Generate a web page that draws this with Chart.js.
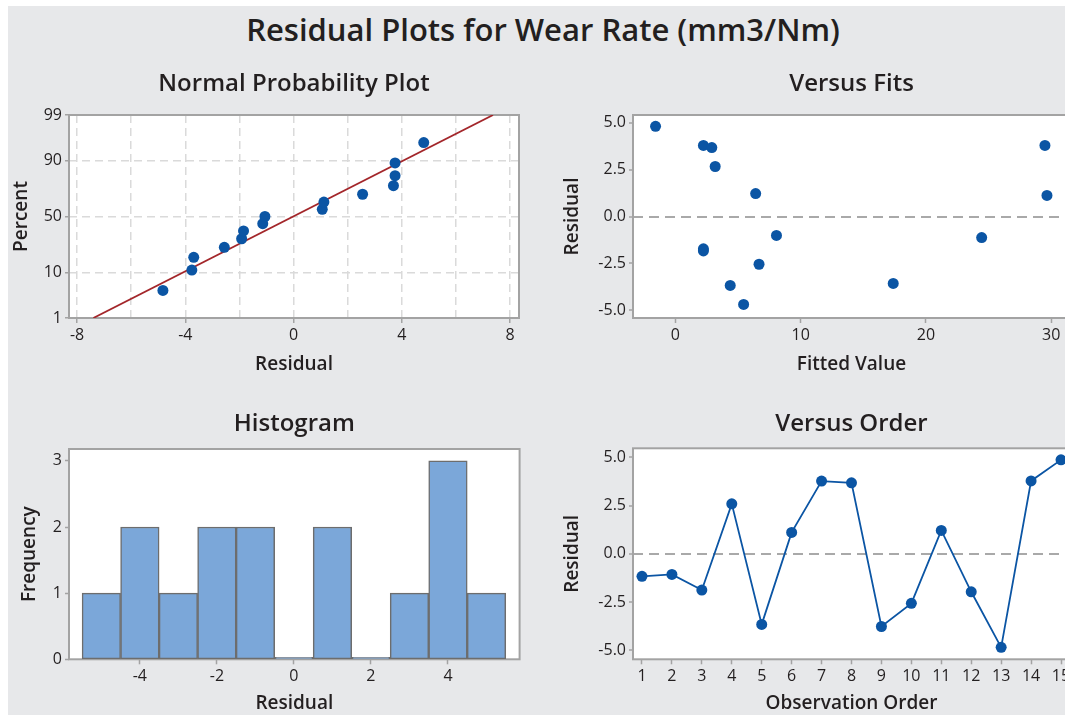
<!DOCTYPE html>
<html><head><meta charset="utf-8">
<script src="https://cdn.jsdelivr.net/npm/chart.js@4.4.1/dist/chart.umd.min.js"></script>
<style>
html,body{margin:0;padding:0;width:1065px;height:715px;overflow:hidden;background:#fff;font-family:"Open Sans",sans-serif;}
#bg{position:absolute;left:8px;top:6px;right:0;bottom:0;background:#e7e8ea;}
#title{position:absolute;left:0;width:1086px;top:8px;text-align:center;font-size:31px;font-weight:600;color:#231f20;line-height:42px;}
.box{position:absolute;}
</style></head><body>
<div id="bg"></div>
<div id="title">Residual Plots for Wear Rate (mm3/Nm)</div>
<div class="box" style="left:0;top:60px;width:540px;height:330px"><canvas id="cProb"></canvas></div>
<div class="box" style="left:540px;top:60px;width:540px;height:330px"><canvas id="cFits"></canvas></div>
<div class="box" style="left:0;top:400px;width:540px;height:315px"><canvas id="cHist"></canvas></div>
<div class="box" style="left:540px;top:400px;width:540px;height:315px"><canvas id="cOrder"></canvas></div>
<script>
// ---------- data ----------
const probResiduals = [-4.83,-3.76,-3.69,-2.56,-1.92,-1.85,-1.14,-1.06,1.06,1.12,2.55,3.69,3.75,3.75,4.81];
const probPercents  = [4.5,11.0,17.5,24.0,30.5,37.0,43.5,50.0,56.5,63.0,69.5,76.0,82.5,89.0,95.5];
const fitLineX   = [-7.40, 7.37];
const fitLinePct = [1, 99];
const probTicks  = [1, 10, 50, 90, 99];

const fittedValues = [-1.58,2.24,2.91,3.18,6.41,29.66,29.50,8.07,24.45,2.24,2.24,6.68,4.38,17.39,5.45];
const fitResiduals = [4.80,3.78,3.67,2.66,1.22,1.12,3.78,-1.01,-1.12,-1.72,-1.83,-2.54,-3.67,-3.56,-4.68];

const binCenters  = [-5,-4,-3,-2,-1,0,1,2,3,4,5];
const frequencies = [1,2,1,2,2,0,2,0,1,3,1];

const observations   = [1,2,3,4,5,6,7,8,9,10,11,12,13,14,15];
const orderResiduals = [-1.17,-1.07,-1.88,2.59,-3.66,1.11,3.77,3.68,-3.77,-2.57,1.21,-1.97,-4.85,3.78,4.87];

// ---------- styles ----------
const FONT = '"Open Sans", sans-serif';
const TXT = '#231f20';
const BLUE = '#0b55a4';
const AXIS = '#a3a3a3';

function probit(p){
  const a=[-3.969683028665376e+01,2.209460984245205e+02,-2.759285104469687e+02,1.383577518672690e+02,-3.066479806614716e+01,2.506628277459239e+00];
  const b=[-5.447609879822406e+01,1.615858368580409e+02,-1.556989798598866e+02,6.680131188771972e+01,-1.328068155288572e+01];
  const c=[-7.784894002430293e-03,-3.223964580411365e-01,-2.400758277161838e+00,-2.549732539343734e+00,4.374664141464968e+00,2.938163982698783e+00];
  const d=[7.784695709041462e-03,3.224671290700398e-01,2.445134137142996e+00,3.754408661907416e+00];
  const pl=0.02425, ph=1-pl; let q,r;
  if(p<pl){q=Math.sqrt(-2*Math.log(p));return (((((c[0]*q+c[1])*q+c[2])*q+c[3])*q+c[4])*q+c[5])/((((d[0]*q+d[1])*q+d[2])*q+d[3])*q+1);}
  if(p<=ph){q=p-0.5;r=q*q;return (((((a[0]*r+a[1])*r+a[2])*r+a[3])*r+a[4])*r+a[5])*q/(((((b[0]*r+b[1])*r+b[2])*r+b[3])*r+b[4])*r+1);}
  q=Math.sqrt(-2*Math.log(1-p));return -(((((c[0]*q+c[1])*q+c[2])*q+c[3])*q+c[4])*q+c[5])/((((d[0]*q+d[1])*q+d[2])*q+d[3])*q+1);
}
function normCdf(z){
  const t=1/(1+0.2316419*Math.abs(z));
  const y=0.3989422804014327*Math.exp(-z*z/2)*t*(0.319381530+t*(-0.356563782+t*(1.781477937+t*(-1.821255978+t*1.330274429))));
  return z>0?1-y:y;
}
class ProbabilityScale extends Chart.LinearScale {
  determineDataLimits(){
    this.min = probit(this.options.min/100);
    this.max = probit(this.options.max/100);
  }
  buildTicks(){
    this.start = this.min; this.end = this.max;
    return probTicks.map(v => ({value: v}));
  }
  getPixelForValue(v){
    if (v === null || v === undefined || isNaN(v)) return NaN;
    return super.getPixelForValue(probit(v/100));
  }
  getValueForPixel(px){ return 100*normCdf(super.getValueForPixel(px)); }
}
ProbabilityScale.id = 'probability';
ProbabilityScale.defaults = {};
Chart.register(ProbabilityScale);

const framePlugin = {
  id: 'frame',
  beforeDraw(chart){
    const a = chart.chartArea, c = chart.ctx;
    c.save(); c.fillStyle = '#ffffff'; c.fillRect(a.left, a.top, a.right-a.left, a.bottom-a.top); c.restore();
  },
  beforeDatasetsDraw(chart){
    const a = chart.chartArea, c = chart.ctx;
    c.save(); c.strokeStyle = AXIS; c.lineWidth = 2;
    c.strokeRect(a.left, a.top, a.right-a.left, a.bottom-a.top); c.restore();
  }
};

function tickFont(){ return {family: FONT, size: 16, weight: '500'}; }
function axisTitle(text, pad){ return {display: true, text, color: TXT, font: {family: FONT, size: 19, weight: '600'}, padding: pad}; }
function panelTitle(text, top, bottom){
  return {display: true, text, color: TXT, fullSize: false, font: {family: FONT, size: 24, weight: '600'}, padding: {top, bottom}};
}
const fitW = w => s => { s.width = w; };
const fitH = h => s => { s.height = h; };
const common = {responsive: true, maintainAspectRatio: false, animation: false, events: []};

// ---------- Normal probability plot ----------
new Chart(document.getElementById('cProb'), {
  type: 'scatter',
  data: {datasets: [
    {data: probResiduals.map((x,i)=>({x, y: probPercents[i]})), backgroundColor: BLUE, borderWidth: 0, pointRadius: 5.5},
    {type: 'line', data: fitLineX.map((x,i)=>({x, y: fitLinePct[i]})), borderColor: '#a3262a', borderWidth: 1.8, pointRadius: 0, fill: false}
  ]},
  options: Object.assign({}, common, {
    layout: {padding: {left: 0, right: 21, top: 0, bottom: 0}},
    plugins: {legend: {display: false}, tooltip: {enabled: false}, title: panelTitle('Normal Probability Plot', 10, 16.2)},
    scales: {
      x: {type: 'linear', min: -8.3, max: 8.33,
          ticks: {stepSize: 2, includeBounds: false, autoSkip: false, maxRotation: 0, padding: 3, color: TXT, font: tickFont(),
                  callback: v => (Math.abs(v % 4) < 1e-9 ? String(v) : '')},
          grid: {color: '#dadada', lineWidth: 1.5, tickLength: 5, tickWidth: 1.5,
                 tickColor: ctx => (ctx.tick && Math.abs(ctx.tick.value % 4) < 1e-9 ? AXIS : 'rgba(0,0,0,0)')},
          border: {display: false, dash: [8, 5]},
          title: axisTitle('Residual', {top: 0, bottom: 14.5}),
          afterFit: fitH(72)},
      y: {type: 'probability', min: 1, max: 99,
          ticks: {autoSkip: false, padding: 3, color: TXT, font: tickFont(), callback: v => String(v)},
          grid: {color: '#dadada', lineWidth: 1.5, tickLength: 4, tickWidth: 1.5, tickColor: AXIS},
          border: {display: false, dash: [8, 5]},
          title: axisTitle('Percent', {top: 10, bottom: 0}),
          afterFit: fitW(69)}
    }
  }),
  plugins: [framePlugin]
});

// ---------- Versus fits ----------
const zeroGrid = {color: ctx => (ctx.tick && Math.abs(ctx.tick.value) < 1e-9 ? '#a9a9a9' : 'rgba(0,0,0,0)'),
                  lineWidth: 2, tickLength: 4, tickWidth: 1.5, tickColor: AXIS};
new Chart(document.getElementById('cFits'), {
  type: 'scatter',
  data: {datasets: [
    {data: fittedValues.map((x,i)=>({x, y: fitResiduals[i]})), backgroundColor: BLUE, borderWidth: 0, pointRadius: 5.5}
  ]},
  options: Object.assign({}, common, {
    layout: {padding: {left: 0, right: 10, top: 0, bottom: 0}},
    plugins: {legend: {display: false}, tooltip: {enabled: false}, title: panelTitle('Versus Fits', 10, 16.2)},
    scales: {
      x: {type: 'linear', min: -3.38, max: 31.5,
          ticks: {stepSize: 10, includeBounds: false, autoSkip: false, maxRotation: 0, padding: 3, color: TXT, font: tickFont()},
          grid: {color: 'rgba(0,0,0,0)', tickLength: 5, tickWidth: 1.5, tickColor: AXIS},
          border: {display: false},
          title: axisTitle('Fitted Value', {top: 0, bottom: 14.5}),
          afterFit: fitH(72)},
      y: {type: 'linear', min: -5.4, max: 5.4,
          ticks: {stepSize: 2.5, includeBounds: false, autoSkip: false, padding: 3, color: TXT, font: tickFont(), callback: v => v.toFixed(1)},
          grid: zeroGrid,
          border: {display: false, dash: [10, 6]},
          title: axisTitle('Residual', {top: 21.5, bottom: 0}),
          afterFit: fitW(93)}
    }
  }),
  plugins: [framePlugin]
});

// ---------- Histogram ----------
new Chart(document.getElementById('cHist'), {
  type: 'bar',
  data: {datasets: [
    {data: binCenters.map((x,i)=>({x, y: frequencies[i]})), backgroundColor: '#7ba7d9', borderColor: '#6d6d6d',
     borderWidth: 1.5, borderSkipped: false, barPercentage: 1, categoryPercentage: 1, minBarLength: 2}
  ]},
  options: Object.assign({}, common, {
    layout: {padding: {left: 0, right: 20.4, top: 0, bottom: 0}},
    plugins: {legend: {display: false}, tooltip: {enabled: false}, title: panelTitle('Histogram', 9.6, 10.6)},
    scales: {
      x: {type: 'linear', offset: false, min: -5.84, max: 5.86,
          ticks: {stepSize: 2, includeBounds: false, autoSkip: false, maxRotation: 0, padding: 3, color: TXT, font: tickFont()},
          grid: {offset: false, color: 'rgba(0,0,0,0)', tickLength: 5, tickWidth: 1.5, tickColor: AXIS},
          border: {display: false},
          title: axisTitle('Residual', {top: 0, bottom: 0}),
          afterFit: fitH(55.7)},
      y: {type: 'linear', min: 0, max: 3.18,
          ticks: {stepSize: 1, includeBounds: false, autoSkip: false, padding: 3, color: TXT, font: tickFont()},
          grid: {color: 'rgba(0,0,0,0)', tickLength: 4, tickWidth: 1.5, tickColor: AXIS},
          border: {display: false},
          title: axisTitle('Frequency', {top: 18.5, bottom: 0}),
          afterFit: fitW(69)}
    }
  }),
  plugins: [framePlugin]
});

// ---------- Versus order ----------
new Chart(document.getElementById('cOrder'), {
  type: 'scatter',
  data: {datasets: [
    {data: observations.map((x,i)=>({x, y: orderResiduals[i]})), showLine: true, borderColor: BLUE, borderWidth: 1.8,
     backgroundColor: BLUE, pointBackgroundColor: BLUE, pointBorderWidth: 0, pointRadius: 5.5}
  ]},
  options: Object.assign({}, common, {
    layout: {padding: {left: 0, right: 10, top: 0, bottom: 0}},
    plugins: {legend: {display: false}, tooltip: {enabled: false}, title: panelTitle('Versus Order', 9.6, 9.9)},
    scales: {
      x: {type: 'linear', min: 0.7, max: 15.3,
          ticks: {stepSize: 1, includeBounds: false, autoSkip: false, maxRotation: 0, padding: 3, color: TXT, font: tickFont()},
          grid: {color: 'rgba(0,0,0,0)', tickLength: 5, tickWidth: 1.5, tickColor: AXIS},
          border: {display: false},
          title: axisTitle('Observation Order', {top: 0, bottom: 0}),
          afterFit: fitH(55.7)},
      y: {type: 'linear', min: -5.47, max: 5.47,
          ticks: {stepSize: 2.5, includeBounds: false, autoSkip: false, padding: 3, color: TXT, font: tickFont(), callback: v => v.toFixed(1)},
          grid: zeroGrid,
          border: {display: false, dash: [10, 6]},
          title: axisTitle('Residual', {top: 21.5, bottom: 0}),
          afterFit: fitW(93)}
    }
  }),
  plugins: [framePlugin]
});
</script>
</body></html>
